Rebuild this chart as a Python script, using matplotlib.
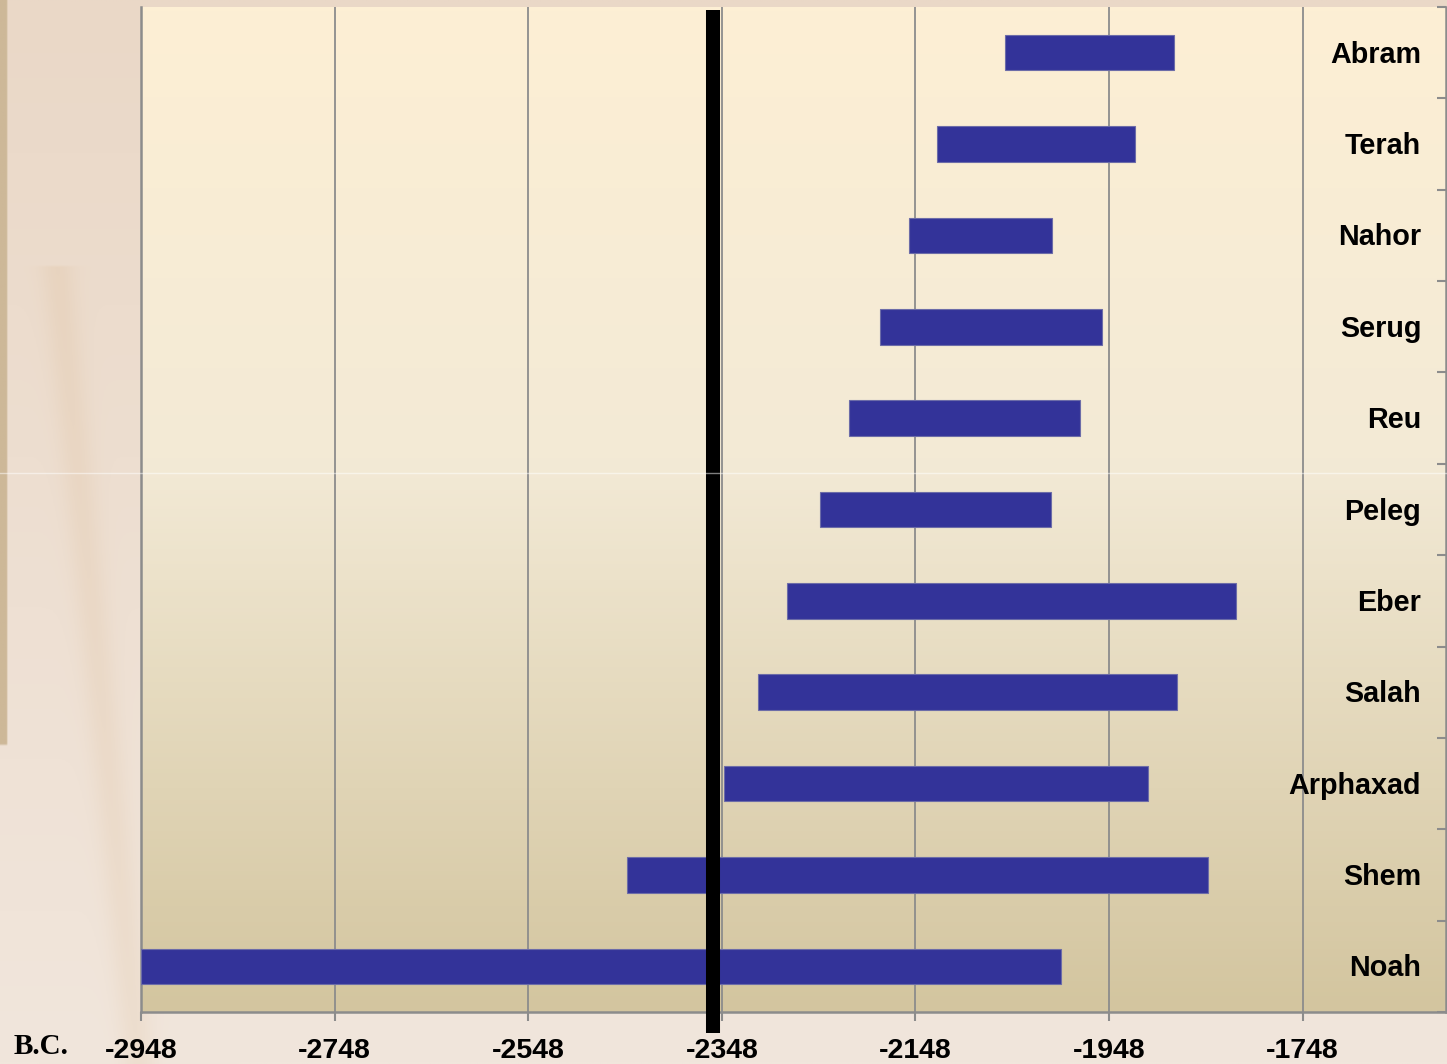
import numpy as np
import matplotlib
matplotlib.use("Agg")
import matplotlib.pyplot as plt
from matplotlib.colors import to_rgb
import matplotlib.transforms as mtransforms

# ---- data ----
names = ["Noah", "Shem", "Arphaxad", "Salah", "Eber", "Peleg",
         "Reu", "Serug", "Nahor", "Terah", "Abram"]
born = [-2948, -2446, -2346, -2311, -2281, -2247, -2217, -2185, -2155, -2126, -2056]
died = [-1998, -1846, -1908, -1878, -1817, -2008, -1978, -1955, -2007, -1921, -1881]
xticks = [-2948, -2748, -2548, -2348, -2148, -1948, -1748]
xticklabels = ["-2948", "-2748", "-2548", "-2348", "-2148", "-1948", "-1748"]
flood_year = -2357

W, H = 1447, 1064
fig = plt.figure(figsize=(W / 100, H / 100), dpi=100)

# ---- background ----
bg = fig.add_axes([0, 0, 1, 1], zorder=-10)
bg.set_axis_off()
yy, xx = np.mgrid[0:1:300j, 0:1:600j]
c_top = np.array(to_rgb("#EAD8C7"))
c_bot = np.array(to_rgb("#F1E6DC"))
img = c_top[None, None, :] * (1 - yy[..., None]) + c_bot[None, None, :] * yy[..., None]
# soft darker diagonal band on the left
centre = 0.02 + 0.075 * yy
band = np.exp(-((xx - centre) / 0.012) ** 2) * (yy > 0.25)
img = img - 0.05 * band[..., None] * np.array([0.3, 0.6, 1.0])[None, None, :]
# thin textured strip at the far left
strip = (xx < 0.004) & (yy < 0.7)
img[strip] = np.array(to_rgb("#CDB898"))
bg.imshow(np.clip(img, 0, 1), extent=[0, 1, 0, 1], aspect="auto", origin="upper")
bg.set_xlim(0, 1)
bg.set_ylim(0, 1)

# ---- main axes ----
left = 141 / W
bottom = (H - 1012) / H
width = (1446 - 141) / W
height = (1012 - 7) / H
ax = fig.add_axes([left, bottom, width, height])
ax.set_facecolor("none")

xmin, xmax = -2948, -1600
ymin, ymax = -0.5, len(names) - 0.5
ax.set_xlim(xmin, xmax)
ax.set_ylim(ymin, ymax)

# plot area gradient
ctop = np.array(to_rgb("#FDEFD4"))
cmid = np.array(to_rgb("#F3EAD6"))
cbot = np.array(to_rgb("#D3C59F"))
gi = np.zeros((256, 1, 3))
for i, t in enumerate(np.linspace(0, 1, 256)):
    if t < 0.45:
        s = t / 0.45
        gi[i, 0] = ctop * (1 - s) + cmid * s
    else:
        s = (t - 0.45) / 0.55
        gi[i, 0] = cmid * (1 - s) + cbot * s
ax.imshow(gi, extent=[xmin, xmax, ymin, ymax], aspect="auto", origin="upper", zorder=0)

# gridlines
for xt in xticks:
    ax.axvline(xt, color="#8C8C8C", lw=1.3, zorder=1)

# bars
y = np.arange(len(names))
lengths = [d - b for b, d in zip(born, died)]
ax.barh(y, lengths, left=born, height=0.39, color="#333399",
        edgecolor="#6C6CA8", linewidth=0.8, zorder=3)

# category labels (right side, inside)
trans = mtransforms.blended_transform_factory(ax.transAxes, ax.transData)
offset = mtransforms.ScaledTranslation(0, -2 / 100, fig.dpi_scale_trans)
for yi, nm in zip(y, names):
    ax.text(0.981, yi, nm, transform=trans + offset, ha="right", va="center",
            fontsize=20.7, fontweight="bold", family="Liberation Sans", zorder=5)

# spines
for side in ["left", "bottom", "right"]:
    ax.spines[side].set_color("#8C8C8C")
    ax.spines[side].set_linewidth(1.8)
ax.spines["top"].set_visible(False)

# x ticks
ax.set_xticks(xticks)
ax.set_xticklabels(xticklabels, fontsize=20.5, fontweight="bold", family="Liberation Sans")
ax.tick_params(axis="x", direction="out", length=6.5, width=1.5, color="#8C8C8C", pad=12)

# y ticks: category boundaries on right spine, pointing inward
ax.yaxis.tick_right()
ax.set_yticks(np.arange(ymin, ymax + 0.01, 1.0))
ax.set_yticklabels([])
ax.tick_params(axis="y", direction="in", length=6.5, width=1.5, color="#8C8C8C")

# flood line
ax.axvline(flood_year, ymin=-0.0209, ymax=0.997, color="black", lw=10.1,
           clip_on=False, zorder=6, solid_capstyle="butt")

# faint horizontal streak
fig.add_artist(plt.Line2D([0.0, 1.0], [1 - 473 / H, 1 - 473 / H], color="white",
                          alpha=0.5, lw=1.0, zorder=20))

# B.C. label
fig.text(14 / W, 1 - 1047 / H, "B.C.", fontsize=21, fontweight="bold",
         family="Liberation Serif", ha="left", va="center")

fig.savefig("out.png", dpi=100)
